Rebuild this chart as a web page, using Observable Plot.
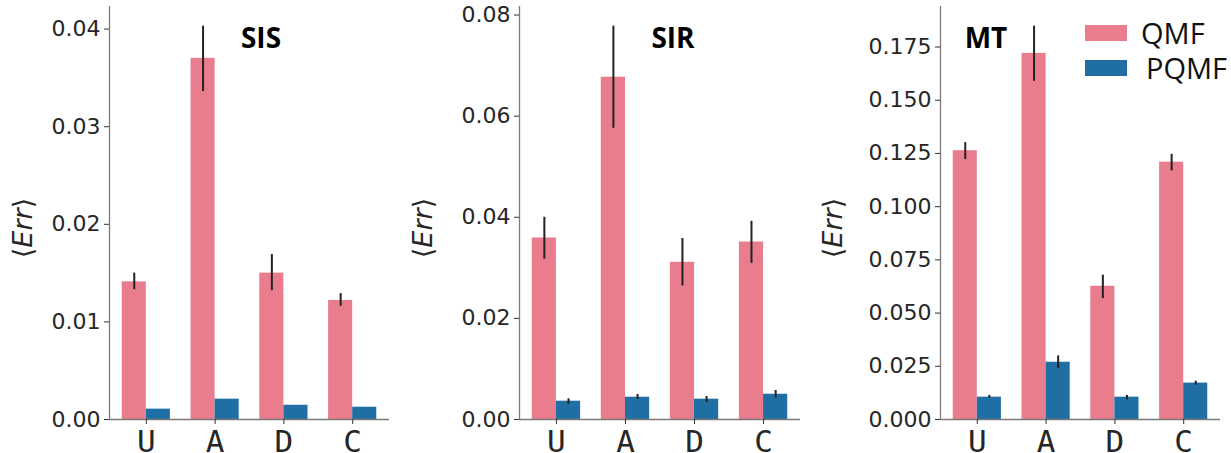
<!DOCTYPE html>
<html>
<head>
<meta charset="utf-8">
<script src="https://cdn.jsdelivr.net/npm/d3@7"></script>
<script src="https://cdn.jsdelivr.net/npm/@observablehq/plot@0.6"></script>
<style>
  html, body { margin: 0; padding: 0; background: #fff; }
  #wrap { position: relative; width: 1231px; height: 453px; overflow: hidden; }
  .panel { position: absolute; top: 0; }
  .ylab { position: absolute; font-family: "DejaVu Sans", sans-serif; font-size: 27px; color: #262626;
          transform: translate(-50%, -50%) rotate(-90deg); white-space: nowrap; }
  .ylab i { font-style: italic; }
  .title { position: absolute; font-family: "Open Sans", sans-serif; font-weight: 700; font-size: 28px;
           color: #000; transform: translate(-50%, -50%); white-space: nowrap; }
  .legend { position: absolute; left: 1085px; top: 15px; font-family: "Open Sans", sans-serif; font-size: 29px; color: #111; }
  .legend .row { display: flex; align-items: center; height: 35px; }
  .legend .sw { width: 42px; height: 16px; margin-right: 14px; }
</style>
</head>
<body>
<div id="wrap"></div>
<script>
// ---- data ----
const categories = ["U", "A", "D", "C"];
const series = ["QMF", "PQMF"];

const sisQMF     = [0.0141, 0.0370, 0.0150, 0.0122];
const sisQMFLo   = [0.0133, 0.0336, 0.0132, 0.0116];
const sisQMFHi   = [0.0150, 0.0403, 0.0169, 0.0129];
const sisPQMF    = [0.00106, 0.00208, 0.00146, 0.00126];
const sisPQMFLo  = [0.00106, 0.00208, 0.00146, 0.00126];
const sisPQMFHi  = [0.00106, 0.00208, 0.00146, 0.00126];

const sirQMF     = [0.0359, 0.0677, 0.0311, 0.0351];
const sirQMFLo   = [0.0317, 0.0576, 0.0264, 0.0309];
const sirQMFHi   = [0.0400, 0.0778, 0.0358, 0.0392];
const sirPQMF    = [0.00362, 0.00441, 0.00402, 0.00500];
const sirPQMFLo  = [0.00300, 0.00396, 0.00336, 0.00427];
const sirPQMFHi  = [0.00410, 0.00495, 0.00455, 0.00574];

const mtQMF      = [0.1263, 0.1720, 0.0626, 0.1209];
const mtQMFLo    = [0.1221, 0.1589, 0.0568, 0.1168];
const mtQMFHi    = [0.1301, 0.1848, 0.0678, 0.1246];
const mtPQMF     = [0.0105, 0.0269, 0.0105, 0.0171];
const mtPQMFLo   = [0.0099, 0.0240, 0.0092, 0.0161];
const mtPQMFHi   = [0.0113, 0.0299, 0.0113, 0.0180];

const sisTicks = [0, 0.01, 0.02, 0.03, 0.04];
const sirTicks = [0, 0.02, 0.04, 0.06, 0.08];
const mtTicks  = [0, 0.025, 0.05, 0.075, 0.1, 0.125, 0.15, 0.175];

const colors = ["#e97d8d", "#1f6fa4"];

// ---- layout ----
const panels = [
  {title: "SIS", q: [sisQMF, sisQMFLo, sisQMFHi], p: [sisPQMF, sisPQMFLo, sisPQMFHi], ticks: sisTicks, fmt: ".2f",
   left: 0, width: 400, ml: 109, mr: 11, titleX: 261},
  {title: "SIR", q: [sirQMF, sirQMFLo, sirQMFHi], p: [sirPQMF, sirPQMFLo, sirPQMFHi], ticks: sirTicks, fmt: ".2f",
   left: 400, width: 410, ml: 119, mr: 10, titleX: 673},
  {title: "MT", q: [mtQMF, mtQMFLo, mtQMFHi], p: [mtPQMF, mtPQMFLo, mtPQMFHi], ticks: mtTicks, fmt: ".3f",
   left: 810, width: 421, ml: 130, mr: 11, titleX: 986}
];

const barW = 0.35;
const H = 453, MT = 6, MB = 34;
const wrap = document.getElementById("wrap");

for (const cfg of panels) {
  const rows = [];
  categories.forEach((c, i) => {
    rows.push({i, cat: c, s: series[0], v: cfg.q[0][i], lo: cfg.q[1][i], hi: cfg.q[2][i], x1: i - barW, x2: i, xc: i - barW / 2});
    rows.push({i, cat: c, s: series[1], v: cfg.p[0][i], lo: cfg.p[1][i], hi: cfg.p[2][i], x1: i, x2: i + barW, xc: i + barW / 2});
  });
  const errRows = rows.filter(d => d.hi > d.lo);
  const span = categories.length - 1 + 2 * barW;
  const lo = -barW - 0.05 * span;
  const hi = categories.length - 1 + barW + 0.05 * span;
  const ymax = 1.05 * d3.max(rows, d => d.hi);

  const plot = Plot.plot({
    width: cfg.width, height: H,
    marginLeft: cfg.ml, marginRight: cfg.mr, marginTop: MT, marginBottom: MB,
    style: {fontFamily: "DejaVu Sans", color: "#262626", background: "transparent"},
    x: {domain: [lo, hi]},
    y: {domain: [0, ymax]},
    color: {domain: series, range: colors},
    marks: [
      Plot.rectY(rows, {x1: "x1", x2: "x2", y1: 0, y2: "v", fill: "s", inset: 0}),
      Plot.ruleX(errRows, {x: "xc", y1: "lo", y2: "hi", stroke: "#222", strokeWidth: 2}),
      Plot.ruleX([lo], {stroke: "#7a7a7a", strokeWidth: 1.3}),
      Plot.ruleY([0], {stroke: "#7a7a7a", strokeWidth: 1.3}),
      Plot.axisY({ticks: cfg.ticks, tickFormat: d3.format(cfg.fmt), tickSize: 5, tickPadding: 4,
                  fontSize: 22, fontFamily: "DejaVu Sans", label: null, stroke: "#333"}),
      Plot.axisX({ticks: d3.range(categories.length), tickFormat: i => categories[i], tickSize: 5,
                  tickPadding: 5, fontSize: 31, fontFamily: "DejaVu Sans Mono", label: null, stroke: "#333"})
    ]
  });
  plot.classList.add("panel");
  plot.style.left = cfg.left + "px";
  wrap.appendChild(plot);

  const yl = document.createElement("div");
  yl.className = "ylab";
  yl.innerHTML = "⟨<i>Err</i>⟩";
  yl.style.left = (cfg.left + 22) + "px";
  yl.style.top = "228px";
  wrap.appendChild(yl);

  const t = document.createElement("div");
  t.className = "title";
  t.textContent = cfg.title;
  t.style.left = cfg.titleX + "px";
  t.style.top = "37px";
  wrap.appendChild(t);
}

// legend
const lg = document.createElement("div");
lg.className = "legend";
series.forEach((s, k) => {
  const r = document.createElement("div");
  r.className = "row";
  const sw = document.createElement("div");
  sw.className = "sw";
  sw.style.background = colors[k];
  const tx = document.createElement("span");
  tx.textContent = s;
  if (k === 1) tx.style.marginLeft = "5px";
  r.appendChild(sw); r.appendChild(tx);
  lg.appendChild(r);
});
wrap.appendChild(lg);
</script>
</body>
</html>
